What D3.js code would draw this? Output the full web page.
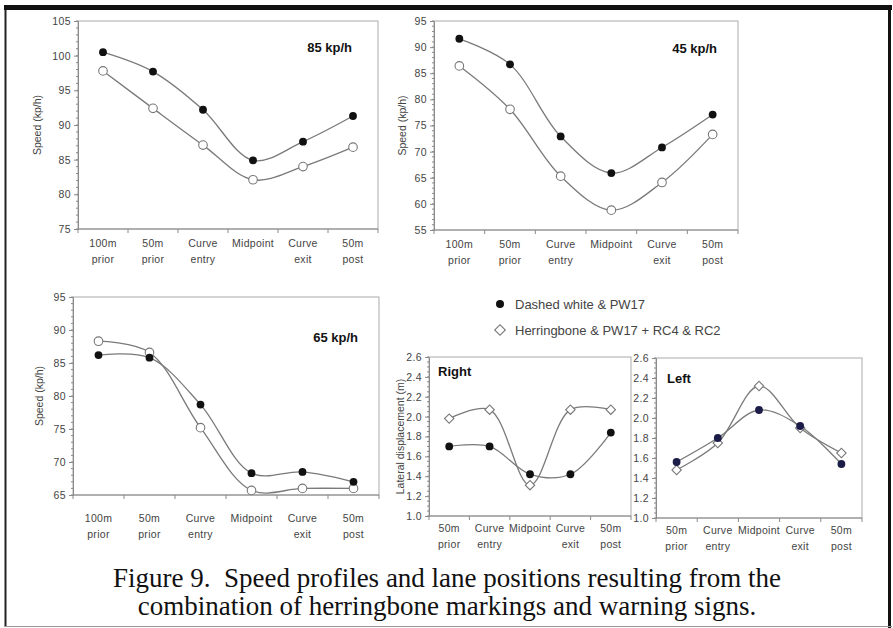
<!DOCTYPE html>
<html>
<head>
<meta charset="utf-8">
<script src="https://cdn.jsdelivr.net/npm/d3@7"></script>
<style>
  html, body { margin: 0; padding: 0; background: #fff; }
  svg { display: block; font-family: "Liberation Sans", Arial, sans-serif; }
</style>
</head>
<body>
<svg id="fig" width="893" height="628"></svg>
<script>
// Categories along the approach to the curve
const speedCategories = [["100m", "prior"], ["50m", "prior"], ["Curve", "entry"], ["Midpoint"], ["Curve", "exit"], ["50m", "post"]];
const laneCategories = [["50m", "prior"], ["Curve", "entry"], ["Midpoint"], ["Curve", "exit"], ["50m", "post"]];

// Series names
const seriesNames = ["Dashed white & PW17", "Herringbone & PW17 + RC4 & RC2"];

// 85 kp/h site speeds (kp/h)
const speed85Dashed = [100.5, 97.7, 92.2, 84.9, 87.6, 91.3];
const speed85Herring = [97.8, 92.4, 87.1, 82.1, 84.0, 86.8];

// 45 kp/h site speeds (kp/h)
const speed45Dashed = [91.6, 86.7, 72.9, 65.9, 70.8, 77.1];
const speed45Herring = [86.4, 78.1, 65.3, 58.8, 64.1, 73.3];

// 65 kp/h site speeds (kp/h)
const speed65Dashed = [86.2, 85.8, 78.7, 68.3, 68.5, 67.0];
const speed65Herring = [88.3, 86.6, 75.2, 65.7, 66.0, 66.0];

// Lateral displacement (m), right and left curves
const laneRightDashed = [1.70, 1.70, 1.42, 1.42, 1.84];
const laneRightHerring = [1.98, 2.07, 1.31, 2.07, 2.07];
const laneLeftDashed = [1.56, 1.80, 2.08, 1.92, 1.54];
const laneLeftHerring = [1.48, 1.75, 2.32, 1.90, 1.65];

// Tick values
const speed85Ticks = [75, 80, 85, 90, 95, 100, 105];
const speed45Ticks = [55, 60, 65, 70, 75, 80, 85, 90, 95];
const speed65Ticks = [65, 70, 75, 80, 85, 90, 95];
const laneTicks = [1.0, 1.2, 1.4, 1.6, 1.8, 2.0, 2.2, 2.4, 2.6];

const svg = d3.select("#fig");

// Outer figure frame
svg.append("line").attr("x1", 5.5).attr("x2", 5.5).attr("y1", 6).attr("y2", 627)
  .attr("stroke", "#222").attr("stroke-width", 2);
svg.append("line").attr("x1", 4).attr("x2", 892).attr("y1", 7.5).attr("y2", 7.5)
  .attr("stroke", "#111").attr("stroke-width", 5);
svg.append("line").attr("x1", 889.5).attr("x2", 889.5).attr("y1", 5).attr("y2", 628)
  .attr("stroke", "#111").attr("stroke-width", 3);
svg.append("line").attr("x1", 4).attr("x2", 892).attr("y1", 626.5).attr("y2", 626.5)
  .attr("stroke", "#999").attr("stroke-width", 1);

const lineColor = "#7a7a7a";
const axisColor = "#8a8a8a";
const labelColor = "#444";

// open marker: square turned 45 degrees
function diamondPath(size) {
  return d3.symbol().type(d3.symbolSquare).size(size)();
}

function drawPanel(cfg) {
  const g = svg.append("g");
  const x = d3.scaleBand().domain(d3.range(cfg.categories.length)).range([cfg.x0, cfg.x1]);
  const y = d3.scaleLinear().domain(cfg.domain).range([cfg.y1, cfg.y0]);

  // plot-area border
  g.append("rect").attr("x", cfg.x0).attr("y", cfg.y0)
    .attr("width", cfg.x1 - cfg.x0).attr("height", cfg.y1 - cfg.y0)
    .attr("fill", "none").attr("stroke", "#aaa").attr("stroke-width", 1);

  // y axis with major and minor ticks
  const yAxis = d3.axisLeft(y).tickValues(cfg.ticks).tickFormat(cfg.format).tickSize(4).tickPadding(3);
  const ya = g.append("g").attr("transform", `translate(${cfg.x0},0)`).call(yAxis);
  ya.attr("font-family", null).attr("font-size", null);
  ya.select(".domain").attr("stroke", axisColor);
  ya.selectAll(".tick line").attr("stroke", axisColor);
  ya.selectAll(".tick text").attr("fill", labelColor).attr("font-size", 10.5)
    .attr("letter-spacing", 0.4);
  const minor = d3.range(cfg.domain[0], cfg.domain[1] + 1e-9, cfg.minorStep);
  g.append("g").selectAll("line").data(minor).join("line")
    .attr("x1", cfg.x0 - 2).attr("x2", cfg.x0)
    .attr("y1", d => y(d)).attr("y2", d => y(d))
    .attr("stroke", axisColor).attr("stroke-width", 1);

  // x axis: ticks at category boundaries, labels at band centres
  const xa = g.append("g");
  xa.append("line").attr("x1", cfg.x0).attr("x2", cfg.x1).attr("y1", cfg.y1).attr("y2", cfg.y1)
    .attr("stroke", axisColor);
  const bounds = d3.range(cfg.categories.length + 1).map(i => cfg.x0 + i * x.step());
  xa.selectAll("line.tk").data(bounds).join("line").attr("class", "tk")
    .attr("x1", d => d).attr("x2", d => d).attr("y1", cfg.y1).attr("y2", cfg.y1 + 4)
    .attr("stroke", axisColor);
  cfg.categories.forEach((lines, i) => {
    const t = xa.append("text").attr("text-anchor", "middle")
      .attr("x", x(i) + x.bandwidth() / 2).attr("y", cfg.y1 + cfg.labelOffset)
      .attr("font-size", 10.5).attr("fill", labelColor).attr("letter-spacing", 0.3);
    lines.forEach((s, k) => t.append("tspan").attr("x", x(i) + x.bandwidth() / 2)
      .attr("dy", k === 0 ? 0 : 15.5).text(s));
  });

  // y-axis title
  if (cfg.yTitle) {
    g.append("text").attr("transform", `translate(${cfg.yTitleX},${(cfg.y0 + cfg.y1) / 2}) rotate(-90)`)
      .attr("text-anchor", "middle").attr("dy", "0.35em").attr("font-size", 10.5)
      .attr("fill", labelColor).text(cfg.yTitle);
  }

  // panel title
  g.append("text").attr("x", cfg.titleX).attr("y", cfg.titleY).attr("dy", "0.35em")
    .attr("text-anchor", cfg.titleAnchor).attr("font-weight", "bold").attr("font-size", 13)
    .attr("fill", "#111").text(cfg.title);

  const cx = i => x(i) + x.bandwidth() / 2;
  const line = d3.line().x((d, i) => cx(i)).y(d => y(d)).curve(d3.curveCatmullRom.alpha(0.5));

  // series lines
  [cfg.dashed, cfg.herring].forEach(vals => {
    g.append("path").attr("d", line(vals)).attr("fill", "none")
      .attr("stroke", lineColor).attr("stroke-width", 1.3);
  });

  // open markers
  if (cfg.openShape === "diamond") {
    g.append("g").selectAll("path").data(cfg.herring).join("path")
      .attr("d", diamondPath(44)).attr("transform", (d, i) => `translate(${cx(i)},${y(d)}) rotate(45)`)
      .attr("fill", "#fff").attr("stroke", "#777").attr("stroke-width", 1.1);
  } else {
    g.append("g").selectAll("circle").data(cfg.herring).join("circle")
      .attr("cx", (d, i) => cx(i)).attr("cy", d => y(d)).attr("r", 4.3)
      .attr("fill", "#fff").attr("stroke", "#777").attr("stroke-width", 1.1);
  }
  // filled markers
  g.append("g").selectAll("circle").data(cfg.dashed).join("circle")
    .attr("cx", (d, i) => cx(i)).attr("cy", d => y(d)).attr("r", 3.9)
    .attr("fill", cfg.filledColor || "#111");
}

const fmtInt = d3.format("d");
const fmt1 = d3.format(".1f");

drawPanel({
  categories: speedCategories, x0: 78, x1: 378, y0: 21, y1: 229,
  domain: [75, 105], ticks: speed85Ticks, minorStep: 1, format: fmtInt,
  dashed: speed85Dashed, herring: speed85Herring, labelOffset: 18,
  yTitle: "Speed (kp/h)", yTitleX: 37,
  title: "85 kp/h", titleX: 352, titleY: 47, titleAnchor: "end"
});

drawPanel({
  categories: speedCategories, x0: 434, x1: 738, y0: 21, y1: 230,
  domain: [55, 95], ticks: speed45Ticks, minorStep: 1, format: fmtInt,
  dashed: speed45Dashed, herring: speed45Herring, labelOffset: 18,
  yTitle: "Speed (kp/h)", yTitleX: 402,
  title: "45 kp/h", titleX: 717, titleY: 48, titleAnchor: "end"
});

drawPanel({
  categories: speedCategories, x0: 73, x1: 379, y0: 297, y1: 495,
  domain: [65, 95], ticks: speed65Ticks, minorStep: 1, format: fmtInt,
  dashed: speed65Dashed, herring: speed65Herring, labelOffset: 27,
  yTitle: "Speed (kp/h)", yTitleX: 39,
  title: "65 kp/h", titleX: 358, titleY: 337, titleAnchor: "end"
});

drawPanel({
  categories: laneCategories, x0: 429, x1: 631, y0: 357, y1: 516,
  domain: [1.0, 2.6], ticks: laneTicks, minorStep: 0.05, format: fmt1,
  dashed: laneRightDashed, herring: laneRightHerring, labelOffset: 16,
  openShape: "diamond",
  yTitle: "Lateral displacement (m)", yTitleX: 400,
  title: "Right", titleX: 438, titleY: 371, titleAnchor: "start"
});

drawPanel({
  categories: laneCategories, x0: 656, x1: 862, y0: 358, y1: 518,
  domain: [1.0, 2.6], ticks: laneTicks, minorStep: 0.05, format: fmt1,
  dashed: laneLeftDashed, herring: laneLeftHerring, labelOffset: 16,
  openShape: "diamond", filledColor: "#1c1c48",
  title: "Left", titleX: 667, titleY: 378, titleAnchor: "start"
});

// legend
const lg = svg.append("g");
lg.append("circle").attr("cx", 500).attr("cy", 304).attr("r", 4).attr("fill", "#111");
lg.append("path").attr("d", diamondPath(56))
  .attr("transform", "translate(500,330) rotate(45)").attr("fill", "#fff").attr("stroke", "#777").attr("stroke-width", 1.1);
seriesNames.forEach((s, i) => {
  lg.append("text").attr("x", 515).attr("y", 304 + i * 26).attr("dy", "0.35em")
    .attr("font-size", 13).attr("fill", "#444").text(s);
});

// caption
const caption = ["Figure 9.  Speed profiles and lane positions resulting from the",
                 "combination of herringbone markings and warning signs."];
caption.forEach((s, i) => {
  svg.append("text").attr("x", 447).attr("y", 578 + i * 28).attr("dy", "0.35em")
    .attr("text-anchor", "middle")
    .style("font-family", "'Liberation Serif', 'Times New Roman', serif")
    .style("white-space", "pre")
    .attr("font-size", 27).attr("fill", "#111").text(s);
});
</script>
</body>
</html>
